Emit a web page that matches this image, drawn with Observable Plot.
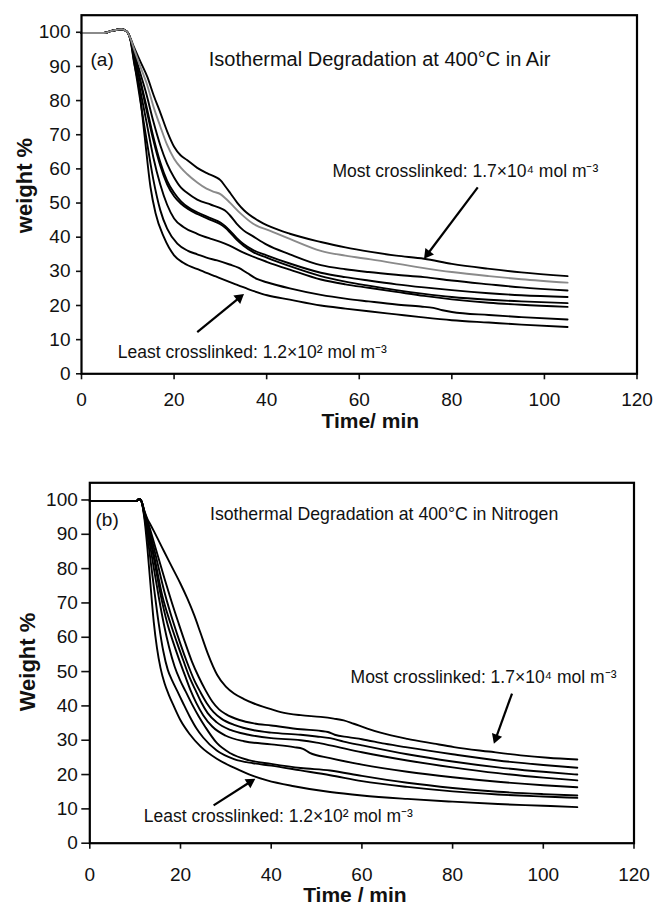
<!DOCTYPE html>
<html><head><meta charset="utf-8">
<script src="https://cdn.jsdelivr.net/npm/d3@7"></script>
<script src="https://cdn.jsdelivr.net/npm/@observablehq/plot@0.6"></script>
<style>
body{margin:0;background:#fff;}
#wrap{width:654px;height:906px;position:relative;overflow:hidden;}
#wrap svg{display:block;}
</style></head><body><div id="wrap"></div>
<script>
// ---------- DATA ----------
const xTicks = [0, 20, 40, 60, 80, 100, 120];
const yTicks = [0, 10, 20, 30, 40, 50, 60, 70, 80, 90, 100];

// Panel (a): Air — shared start then 8 curves (a2 is the grey one)
const leadA = [[0,99.8],[4.8,99.8],[6.5,100.4],[8.7,100.9],[9.8,100.2]];
const a1 = [[10.6,98.2],[11.3,95.8],[12.7,91.5],[14.2,87],[15.6,81.5],[17.1,76.2],[18.5,71],[20,66.5],[21.4,64],[22.8,62.6],[25,60.3],[27.2,58.7],[29,57.6],[30,56.7],[31,55],[32.2,52.8],[33.7,50],[35.1,47.9],[38,45],[40.9,43],[45,41],[51.7,38.6],[57,37],[62.5,35.7],[68,34.6],[74,33.7],[80,32.2],[87.7,30.8],[95,29.7],[105,28.6]];
const a2 = [[10.6,98.1],[11.3,95.3],[12.7,90],[14.2,84.5],[15.6,78],[17,72.5],[18.5,67],[20,63],[21.5,60.3],[22.8,58.5],[25,56],[27,54.2],[28.6,53.3],[30,52.6],[31,51.5],[32,50.2],[34.4,46.9],[37,44],[40.9,41.8],[45,39.5],[51.7,36],[57,34.6],[62.5,33.5],[73.3,31.1],[80,29.8],[88,28.6],[95,27.7],[105,26.7]];
const a3 = [[10.6,98],[11.3,94.6],[12.7,88],[14,82],[15.5,74],[17,67],[18.5,61.5],[20,57.5],[21.5,54.5],[22.8,53],[25,51],[28,49.5],[30,48.5],[31,47.8],[32,46.5],[33.5,44],[35,42],[37,40.3],[40,37.8],[45,35],[51.7,31.8],[57,30.6],[62,29.8],[68,29],[74,28.3],[80,27.3],[88,26.2],[95,25.3],[105,24.4]];
const a4 = [[10.6,97.9],[11.3,94],[12.7,86],[14,78.5],[15.5,69.5],[17,62],[18.5,56.5],[20,53],[21.5,50.5],[23,48.8],[25,47.3],[28,45.5],[30,44.3],[31,43.3],[32,42],[33.5,39.8],[35,38],[37,36.3],[40,34.7],[45,32.3],[51.7,29.6],[57,28.3],[62,27.3],[68,26.2],[74,25.3],[80,24.5],[88,23.6],[95,23],[105,22.5]];
const a5 = [[10.6,97.9],[11.3,93.8],[12.7,85.5],[14,77.5],[15.5,68.5],[17,61],[18.5,55.5],[20,52],[21.5,49.8],[23,48.3],[25,46.8],[28,45],[30,43.8],[31,42.8],[32,41.5],[33.5,39.3],[35,37.5],[37,35.7],[40,34],[45,31.5],[51.7,28.6],[57,27],[62,25.8],[68,24.5],[74,23.4],[80,22.5],[88,21.7],[95,21.2],[105,20.7]];
const a6 = [[10.6,97.8],[11.3,93],[12.7,83],[14,74],[15.5,63.5],[17,55.5],[18.5,49.5],[20,45.5],[22,43],[25,41],[28,39.5],[30,38.6],[32,37.5],[35,35.5],[38,33.8],[40,32.8],[45,30.5],[51.7,27.6],[57,26.2],[62,25.2],[68,24],[74,22.8],[80,21.8],[88,20.8],[95,20.2],[105,19.6]];
const a7 = [[10.6,97.7],[11.3,92],[12.7,80],[14,69],[15.5,57],[17,48],[18.5,42.5],[20.7,38.1],[23,36],[25,35],[27,34],[29.3,33.2],[32,32],[34,31],[35.8,29.5],[38,27.7],[40,26.8],[45,25],[51.7,23.1],[57,22],[62,21.2],[68,20.3],[73.3,19.7],[76,19.3],[78,18.6],[80,18.1],[88,17.2],[95,16.6],[105,15.9]];
const a8 = [[10.6,97.6],[11.3,91.5],[12.4,84],[13.5,71.3],[14.9,54.7],[16,47],[17.8,40],[20,34.7],[22,32.5],[25.7,30.3],[29,28.5],[32.9,26.4],[36,24.8],[40.1,23],[45,21.7],[51.7,20],[57,19.1],[62,18.3],[68,17.4],[73.3,16.6],[80,15.7],[88,15],[95,14.4],[105,13.7]];
const namesA = ["a1","a2","a3","a4","a5","a6","a7","a8"];
const greyA = "a2";

// Panel (b): Nitrogen — shared start then 8 curves
const leadB = [[0,99.7],[10.3,99.7],[10.9,100.3],[11.4,99.6]];
const b1 = [[12,97],[12.6,94.8],[13.3,93],[14.1,91],[16.3,85.2],[18.5,79.5],[20,75.6],[21.5,71.3],[23,66.5],[24.4,61.3],[26,55.3],[28.1,49],[30,45.6],[31.8,43.6],[34,42],[36.2,40.7],[39,39.4],[42.1,38.2],[46.5,37.3],[50.9,36.8],[53.8,36.3],[56,35.8],[58.2,34.8],[61.2,33.4],[64.1,32.2],[70,30.4],[75.9,29],[80.3,28],[88,26.7],[95,25.6],[101,24.9],[107.5,24.4]];
const b2 = [[12,96.8],[13,92.8],[14.5,86],[16.5,77],[18,70.5],[19.6,64],[21,58.5],[22.5,53],[24,48.5],[25.5,44.6],[27,41.3],[28.5,39],[30,37.6],[33,35.9],[36.2,34.9],[40,34.3],[46.5,33.2],[51,32.7],[52.5,32.4],[54,31.6],[57,30.9],[60,30.3],[65,29],[70,27.9],[80,25.9],[90,24.1],[100,22.8],[107.5,22]];
const b3 = [[12,96.6],[13,92],[14.5,84],[16.5,73],[18.5,64],[20,58],[21.5,52.5],[23,47.6],[24.4,44],[25.8,40.8],[27.3,38.2],[29,36.3],[32,34.4],[36.2,32.9],[40,32.2],[46.5,31.6],[50,31.1],[53,30.6],[56,29.6],[60,28.5],[70,25.9],[80,23.8],[90,22.1],[100,20.8],[107.5,20]];
const b4 = [[12,96.4],[13,91],[14.3,83],[16,72],[17.8,64],[19.2,58.5],[20.6,53.3],[22,48.3],[23.3,44.6],[24.6,41],[26,37.9],[28,35.2],[31,33],[35,31.6],[40,30.6],[46.5,30],[50,29.3],[53,28.5],[60,26.5],[70,24.1],[80,22.1],[90,20.4],[100,19.1],[107.5,18.3]];
const b5 = [[12,96.2],[13,90.5],[14.2,82.5],[15.6,72.5],[17.1,64],[18.4,58.5],[19.7,53.5],[21,48.8],[22.2,44.6],[23.5,40.8],[25,37.3],[27,34],[30,31.3],[34,29.7],[40,28.8],[45,28],[47,27.5],[48.5,26.3],[53,24.8],[60,22.9],[70,20.8],[80,19.2],[90,17.9],[100,16.9],[107.5,16.3]];
const b6 = [[12,96],[13,89],[14.2,79.5],[15.3,71],[16.3,64],[17.5,57],[18.7,51.5],[19.9,47.5],[21.1,44.3],[22.5,40.6],[24,37],[25.5,33.8],[28,29.2],[31,26.2],[35,24.2],[40,23.1],[46.5,21.9],[53,21.2],[60,19.6],[70,17.6],[80,16.1],[90,15],[100,14.3],[107.5,13.9]];
const b7 = [[12,95.5],[13,86.5],[14,76],[15.2,64],[16.2,56],[17.2,50.5],[18.2,47.3],[19.3,44.3],[20.5,41],[22,37],[23.5,33.5],[25,30.8],[28,27],[31.8,24.5],[36,23.3],[40,22.6],[46.5,21.2],[53,19.8],[60,18.1],[70,16.4],[80,15.1],[90,14.2],[100,13.6],[107.5,13.2]];
const b8 = [[12,95],[12.7,86],[13.4,75],[14.1,64.5],[14.8,57],[15.6,51],[16.5,46.5],[17.4,43.3],[18.5,40],[20,35.8],[22,31.8],[24.4,28.2],[28,24.6],[31.8,22],[36,19.6],[39.1,18.3],[45,16.6],[53,14.9],[60,13.9],[70,12.9],[80,12.1],[90,11.4],[100,10.9],[107.5,10.5]];
const namesB = ["b1","b2","b3","b4","b5","b6","b7","b8"];

// ---------- ANNOTATIONS (data coordinates) ----------
const textsA = [
  {x:1.95, y:90, text:"(a)", size:19},
  {x:27.5, y:90, text:"Isothermal Degradation at 400°C in Air", size:20},
  {x:54.2, y:57.6, text:"Most crosslinked: 1.7×10⁴ mol m⁻³", size:17.5},
  {x:7.85, y:4.5, text:"Least crosslinked: 1.2×10² mol m⁻³", size:17.5}
];
const arrowsA = [
  {x1:85.6, y1:54.6, x2:74.0, y2:33.7},
  {x1:25.0, y1:12.2, x2:35.1, y2:23.4}
];
const textsB = [
  {x:1.26, y:92.4, text:"(b)", size:19},
  {x:26.5, y:94.2, text:"Isothermal Degradation at 400°C in Nitrogen", size:17.7},
  {x:57.5, y:46.6, text:"Most crosslinked: 1.7×10⁴ mol m⁻³", size:17.5},
  {x:11.9, y:6.3, text:"Least crosslinked: 1.2×10² mol m⁻³", size:17.5}
];
const arrowsB = [
  {x1:93.1, y1:43.6, x2:89.1, y2:29.0},
  {x1:27.3, y1:11.0, x2:36.5, y2:18.8}
];

// ---------- BUILD ----------
const FONT = "'Liberation Sans', Arial, Helvetica, sans-serif";
function rows(lead, series, names) {
  return series.flatMap((pts, i) => [...lead, ...pts].map(([t, w]) => ({t, w, s: names[i]})));
}
function arrowMarks(list, kx, ky, r) {
  const size = Math.PI * r * r;
  const h = Math.sqrt(size / (Math.sqrt(3) * 3));
  const items = list.map(d => {
    const sx = (d.x2 - d.x1) * kx, sy = -(d.y2 - d.y1) * ky;
    const L = Math.hypot(sx, sy), ux = sx / L, uy = sy / L;
    return {
      x1: d.x1, y1: d.y1,
      hx: d.x2 - 2 * h * ux / kx, hy: d.y2 + 2 * h * uy / ky,
      rot: Math.atan2(ux, -uy) * 180 / Math.PI
    };
  });
  return [
    Plot.link(items, {x1: "x1", y1: "y1", x2: "hx", y2: "hy", stroke: "black", strokeWidth: 2.2}),
    Plot.dot(items, {x: "hx", y: "hy", symbol: "triangle", r, rotate: "rot", fill: "black", stroke: "none"})
  ];
}
function panel(cfg) {
  const {width, height, ml, mr, mt, mb, data, grey, texts, arrows, xlabel, ylabel, xl, yl, yTickSize, yTickPad, xTickPad} = cfg;
  const kx = (width - ml - mr) / 120, ky = (height - mt - mb) / 105;
  const marks = [
    Plot.axisY({ticks: yTicks, tickSize: yTickSize, tickPadding: yTickPad, label: null, fontSize: 19, strokeWidth: 1.6}),
    Plot.axisX({ticks: xTicks, tickSize: 6, tickPadding: xTickPad, label: null, fontSize: 19, strokeWidth: 1.6}),
    Plot.line(data.filter(d => d.s !== grey), {x: "t", y: "w", z: "s", stroke: "black", strokeWidth: 1.9, curve: "monotone-x"}),
  ];
  if (grey) marks.push(Plot.line(data.filter(d => d.s === grey), {x: "t", y: "w", stroke: "#8a8a8a", strokeWidth: 1.9, curve: "monotone-x"}));
  marks.push(Plot.frame({stroke: "black", strokeWidth: 2.2}));
  for (const t of texts) {
    marks.push(Plot.text([t], {x: "x", y: "y", text: "text", textAnchor: "start", lineAnchor: "bottom", fontSize: t.size, fill: "#111"}));
  }
  marks.push(...arrowMarks(arrows, kx, ky, 4));
  marks.push(Plot.text([xlabel], {frameAnchor: "bottom", dx: xl[0], dy: xl[1], textAnchor: "middle", lineAnchor: "bottom", fontWeight: "bold", fontSize: 21, fill: "#111"}));
  marks.push(Plot.text([ylabel], {frameAnchor: "left", rotate: -90, dx: yl[0], dy: yl[1], textAnchor: "middle", lineAnchor: "middle", fontWeight: "bold", fontSize: 22, fill: "#111"}));
  return Plot.plot({
    width, height, marginLeft: ml, marginRight: mr, marginTop: mt, marginBottom: mb,
    x: {domain: [0, 120]},
    y: {domain: [0, 105]},
    style: {fontFamily: FONT, fontSize: "19px", color: "#111", background: "white", overflow: "visible"},
    marks
  });
}

const wrap = document.getElementById("wrap");
wrap.append(panel({
  width: 654, height: 450, ml: 81, mr: 17.5, mt: 14.7, mb: 76.7,
  data: rows(leadA, [a1,a2,a3,a4,a5,a6,a7,a8], namesA), grey: greyA,
  texts: textsA, arrows: arrowsA,
  xlabel: "Time/ min", ylabel: "weight %", xl: [11, 54], yl: [-57, -9],
  yTickSize: 5, yTickPad: 6, xTickPad: 13
}));
wrap.append(panel({
  width: 654, height: 456, ml: 89.3, mr: 20.5, mt: 32.3, mb: 63.3,
  data: rows(leadB, [b1,b2,b3,b4,b5,b6,b7,b8], namesB), grey: null,
  texts: textsB, arrows: arrowsB,
  xlabel: "Time / min", ylabel: "Weight %", xl: [-7, 59], yl: [-62, -1],
  yTickSize: 8, yTickPad: 4, xTickPad: 18
}));
</script></body></html>
